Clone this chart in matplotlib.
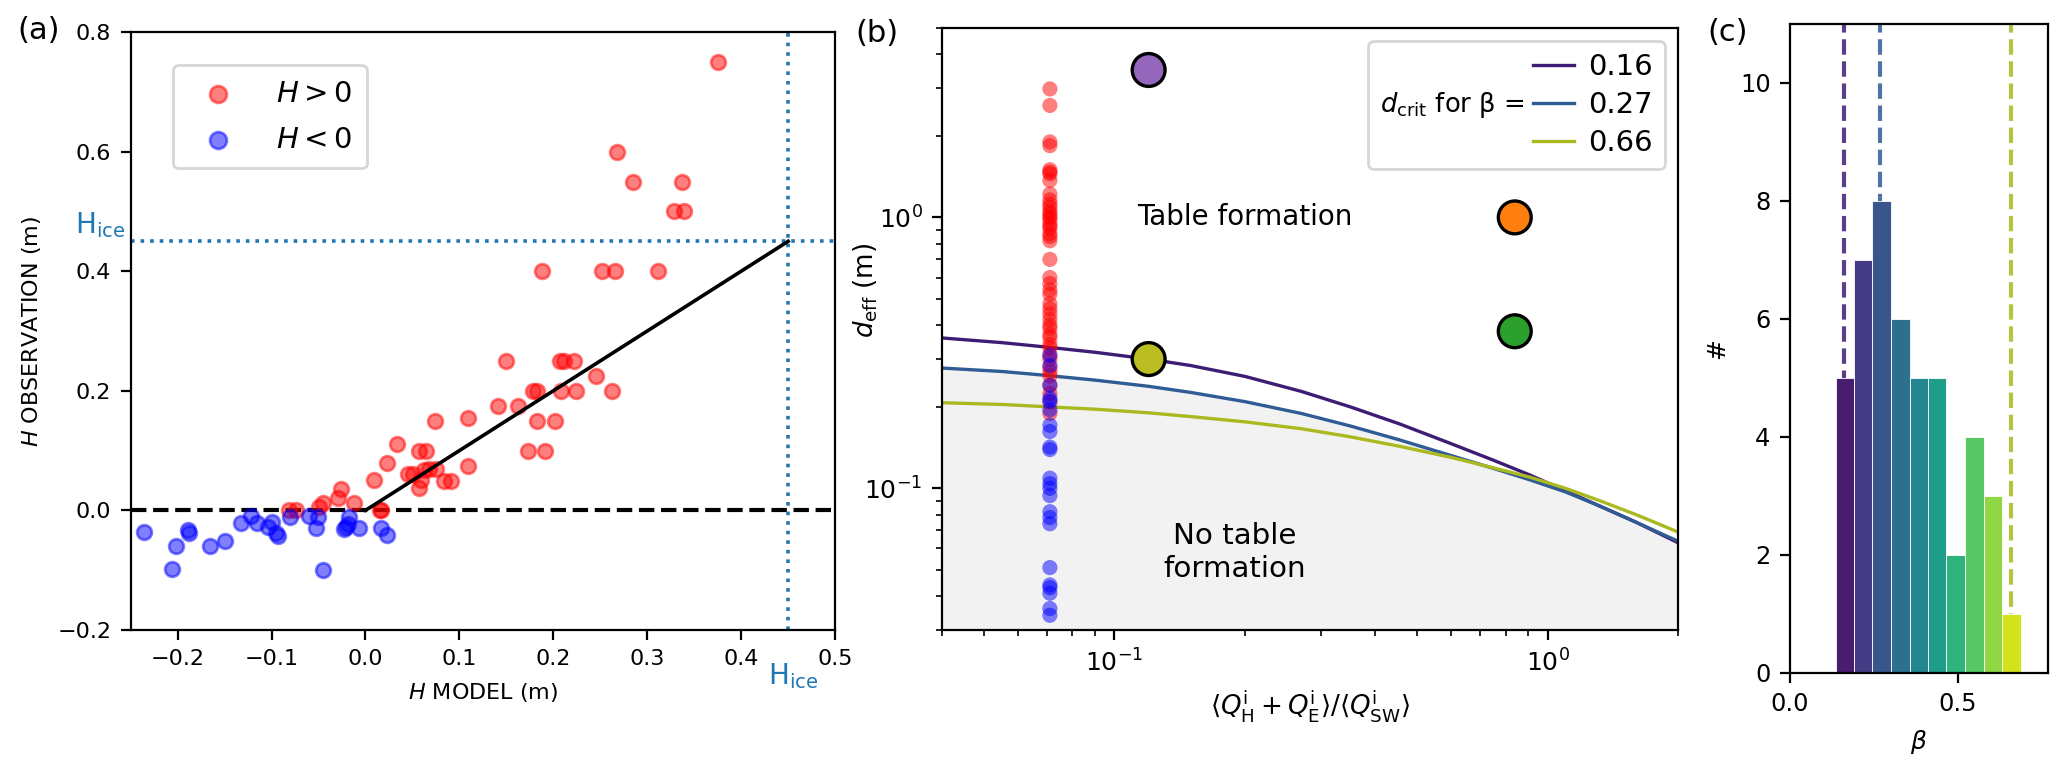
import numpy as np
import matplotlib
matplotlib.use("Agg")
import matplotlib.pyplot as plt
from matplotlib.offsetbox import HPacker

# ---- panel (a): H model vs H observation ----
h_pos_model = [-0.081, -0.074, -0.049, -0.045, -0.029, -0.026, -0.012, 0.009, 0.016, 0.017,
               0.023, 0.034, 0.045, 0.051, 0.057, 0.064, 0.057, 0.059, 0.062, 0.068,
               0.075, 0.074, 0.084, 0.091, 0.109, 0.109, 0.141, 0.162, 0.173, 0.178,
               0.183, 0.183, 0.191, 0.202, 0.208, 0.224, 0.245, 0.262, 0.150, 0.207,
               0.211, 0.222, 0.188, 0.252, 0.266, 0.312, 0.268, 0.285, 0.337, 0.328,
               0.339, 0.375]
h_pos_obs = [0.0, 0.0, 0.005, 0.012, 0.020, 0.036, 0.012, 0.051, 0.0, 0.0,
             0.080, 0.111, 0.061, 0.061, 0.100, 0.100, 0.038, 0.051, 0.067, 0.069,
             0.069, 0.150, 0.050, 0.050, 0.154, 0.075, 0.175, 0.175, 0.100, 0.200,
             0.200, 0.150, 0.100, 0.150, 0.200, 0.200, 0.224, 0.200, 0.250, 0.250,
             0.250, 0.250, 0.400, 0.400, 0.400, 0.400, 0.600, 0.550, 0.550, 0.500,
             0.500, 0.750]
h_neg_model = [-0.236, -0.206, -0.202, -0.189, -0.188, -0.166, -0.150, -0.133, -0.122, -0.115,
               -0.104, -0.099, -0.095, -0.093, -0.080, -0.060, -0.053, -0.051, -0.045, -0.023,
               -0.021, -0.018, -0.019, -0.007, 0.017, 0.023]
h_neg_obs = [-0.036, -0.098, -0.060, -0.032, -0.037, -0.060, -0.051, -0.021, -0.009, -0.021,
             -0.027, -0.019, -0.038, -0.042, -0.011, -0.009, -0.030, -0.011, -0.100, -0.031,
             -0.027, -0.011, -0.022, -0.030, -0.030, -0.041]
h_ice = 0.45

# ---- panel (b): d_eff vs flux ratio ----
flux_ratio_obs = 0.071
d_red = [2.98, 2.59, 1.90, 1.84, 1.50, 1.47, 1.45, 1.37, 1.22, 1.16, 1.12, 1.09, 1.05, 1.03,
         1.00, 0.99, 0.95, 0.93, 0.91, 0.87, 0.85, 0.82, 0.70, 0.60, 0.57, 0.54, 0.52, 0.48,
         0.46, 0.44, 0.42, 0.40, 0.39, 0.37, 0.36, 0.34, 0.33, 0.31, 0.30, 0.28, 0.27, 0.26,
         0.24, 0.224, 0.208, 0.189]
d_blue = [0.31, 0.284, 0.24, 0.215, 0.21, 0.195, 0.171, 0.162, 0.142, 0.139, 0.109, 0.104,
          0.100, 0.094, 0.082, 0.078, 0.074, 0.051, 0.044, 0.043, 0.041, 0.036, 0.034]
case_x = [0.12, 0.84, 0.84, 0.12]
case_d = [3.5, 1.0, 0.38, 0.30]
case_colors = ["#9467bd", "#ff7f0e", "#2ca02c", "#bcbd22"]

crit_x = [0.04, 0.055, 0.07, 0.09, 0.12, 0.15, 0.2, 0.27, 0.35, 0.455, 0.6, 0.75, 0.91,
          1.1, 1.32, 1.6, 2.0]
crit_d016 = [0.359, 0.345, 0.332, 0.318, 0.300, 0.284, 0.259, 0.228, 0.200, 0.173, 0.146,
             0.127, 0.112, 0.098, 0.086, 0.075, 0.063]
crit_d027 = [0.278, 0.270, 0.261, 0.251, 0.238, 0.226, 0.209, 0.189, 0.170, 0.151, 0.132,
             0.1185, 0.1075, 0.097, 0.086, 0.075, 0.0638]
crit_d066 = [0.207, 0.204, 0.200, 0.196, 0.190, 0.184, 0.176, 0.166, 0.155, 0.143, 0.130,
             0.119, 0.110, 0.100, 0.090, 0.080, 0.069]
beta_labels = ["0.16", "0.27", "0.66"]
beta_lines = [0.16, 0.27, 0.66]
beta_colors = ["#3d1c74", "#2f5c94", "#aab91f"]

# ---- panel (c): histogram of beta ----
beta_edges = [0.137, 0.190, 0.245, 0.300, 0.357, 0.412, 0.467, 0.522, 0.578, 0.633, 0.689]
beta_counts = [5, 7, 8, 6, 5, 5, 2, 4, 3, 1]

plt.rcParams["font.family"] = ["DejaVu Sans"]
plt.rcParams["mathtext.fontset"] = "dejavusans"

fig = plt.figure(figsize=(10.335, 3.85), dpi=200)
axa = fig.add_axes([0.0632, 0.1818, 0.3408, 0.7766])
axb = fig.add_axes([0.4557, 0.1818, 0.3561, 0.7818])
axc = fig.add_axes([0.866, 0.126, 0.1248, 0.8429])

# (a)
axa.axhline(0, color="k", ls="--", lw=1.5, zorder=1)
axa.plot([0, h_ice], [0, h_ice], color="k", lw=1.3, zorder=3)
axa.axhline(h_ice, color="#1f77b4", ls=":", lw=1.3)
axa.axvline(h_ice, color="#1f77b4", ls=":", lw=1.3)
axa.scatter(h_pos_model, h_pos_obs, s=28, c="r", alpha=0.5, linewidths=1.0, label="$H > 0$", zorder=2)
axa.scatter(h_neg_model, h_neg_obs, s=28, c="b", alpha=0.5, linewidths=1.0, label="$H < 0$", zorder=2)
axa.set_xlim(-0.25, 0.5)
axa.set_ylim(-0.2, 0.8)
axa.set_xticks([-0.2, -0.1, 0.0, 0.1, 0.2, 0.3, 0.4, 0.5])
axa.set_xticklabels(["\u22120.2", "\u22120.1", "0.0", "0.1", "0.2", "0.3", "0.4", "0.5"])
axa.tick_params(labelsize=8)
axa.set_xlabel("$H$ MODEL (m)", fontsize=8)
axa.set_ylabel("$H$ OBSERVATION (m)", fontsize=8, labelpad=5)
axa.text(-0.256, h_ice + 0.003, r"H$_{\rm ice}$", color="#1f77b4", fontsize=10,
         ha="right", va="bottom")
axa.text(h_ice + 0.005, -0.052, r"H$_{\rm ice}$", color="#1f77b4", fontsize=10,
         ha="center", va="top", transform=axa.get_xaxis_transform())
axa.legend(loc="upper left", bbox_to_anchor=(0.06, 0.945), borderaxespad=0, fontsize=10.5,
           markerscale=1.15, handlelength=2.1, handletextpad=0.95, borderpad=0.5,
           labelspacing=0.63)

# (b)
axb.set_xscale("log")
axb.set_yscale("log")
axb.set_xlim(0.04, 2.0)
axb.set_ylim(0.03, 5.0)
axb.fill_between(crit_x, 0.03, crit_d027, color="#f2f2f2", lw=0, zorder=0)
for d, lab, col in zip([crit_d016, crit_d027, crit_d066], beta_labels, beta_colors):
    axb.plot(crit_x, d, color=col, lw=1.2, label=lab, zorder=2)
axb.scatter([flux_ratio_obs] * len(d_red), d_red, s=30, c="r", alpha=0.5, edgecolors="none", zorder=3)
axb.scatter([flux_ratio_obs] * len(d_blue), d_blue, s=30, c="b", alpha=0.5, edgecolors="none", zorder=3)
axb.scatter(case_x, case_d, s=140, c=case_colors, edgecolors="k", linewidths=1.2, zorder=4)
axb.text(0.2, 1.0, "Table formation", fontsize=10, ha="center", va="center")
axb.text(0.19, 0.058, "No table\nformation", fontsize=10.6, ha="center", va="center")
axb.tick_params(labelsize=9)
axb.set_xlabel(r"$\langle Q_{\rm H}^{\rm i} + Q_{\rm E}^{\rm i}\rangle / \langle Q_{\rm SW}^{\rm i}\rangle$",
               fontsize=9.4)
axb.set_ylabel(r"$d_{\rm eff}$ (m)", fontsize=9.4)
axb.yaxis.set_label_coords(-0.084, 0.565)
leg = axb.legend(loc="upper right", title=r"$d_{\rm crit}$ for β =", fontsize=10.5,
                 title_fontsize=9.3, handlelength=1.4, handletextpad=0.5,
                 labelspacing=0.35, borderaxespad=0.45)
try:
    fs = leg._fontsize
    box = HPacker(pad=leg.borderpad * fs, sep=0.3 * fs, align="center",
                  children=[leg._legend_title_box, leg._legend_handle_box])
    box.set_figure(fig)
    box.axes = axb
    leg._legend_box = box
    leg._legend_box.set_offset(leg._findoffset)
except Exception:
    pass

# (c)
for b, col in zip(beta_lines, beta_colors):
    axc.axvline(b, color=col, ls="--", lw=1.5, alpha=0.85, zorder=0.5)
bar_colors = plt.cm.viridis(np.linspace(0.08, 0.93, len(beta_counts)))
axc.bar(beta_edges[:-1], beta_counts, width=np.diff(beta_edges), align="edge",
        color=bar_colors, edgecolor="white", linewidth=0.3, zorder=1)
axc.set_xlim(0, 0.77)
axc.set_ylim(0, 11)
axc.set_xticks([0.0, 0.5])
axc.set_yticks([0, 2, 4, 6, 8, 10])
axc.tick_params(labelsize=8.7)
axc.set_xlabel(r"$\beta$", fontsize=9)
axc.set_ylabel("#", fontsize=9)

fig.text(0.0082, 0.961, "(a)", fontsize=11, va="center")
fig.text(0.414, 0.957, "(b)", fontsize=11, va="center")
fig.text(0.826, 0.958, "(c)", fontsize=11, va="center")

fig.savefig("out.png", dpi=200)
